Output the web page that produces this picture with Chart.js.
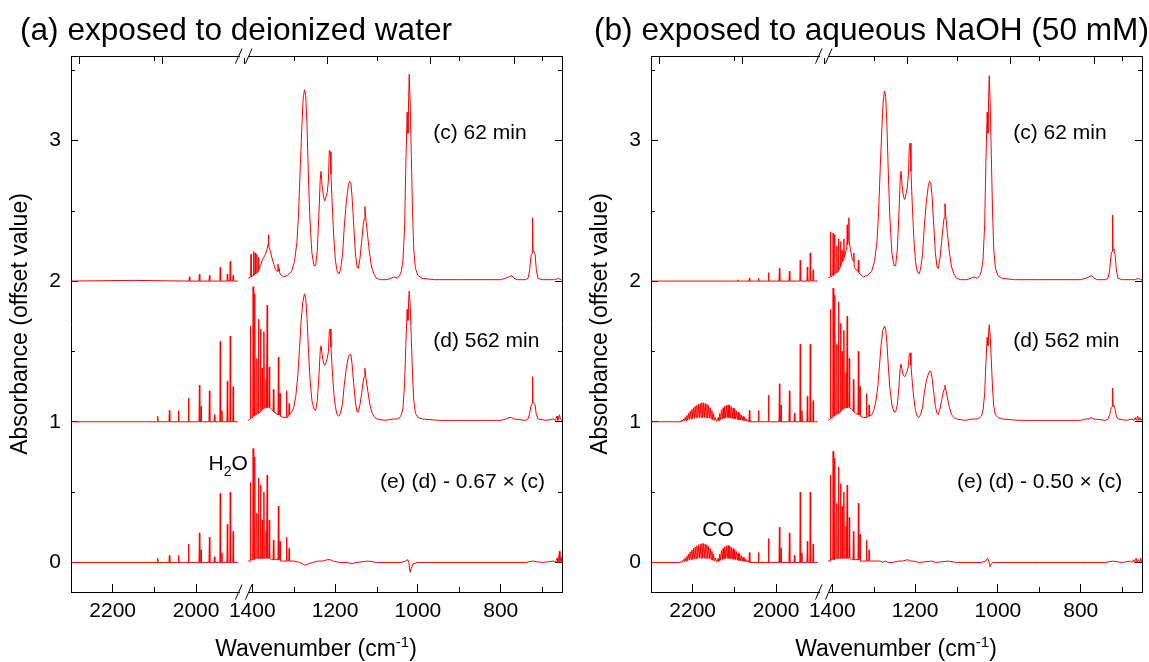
<!DOCTYPE html>
<html><head><meta charset="utf-8">
<script src="https://cdn.jsdelivr.net/npm/chart.js@4.4.1/dist/chart.umd.min.js"></script>
<style>
html,body{margin:0;padding:0;background:#fff;}
#wrap{position:relative;width:1149px;height:662px;overflow:hidden;}
#ca{position:absolute;left:0;top:0;}
#cb{position:absolute;left:580px;top:0;}
</style></head><body>
<div id="wrap">
<canvas id="ca" width="575" height="662"></canvas>
<canvas id="cb" width="569" height="662"></canvas>
</div>
<script>
// ---------- DATA (wavenumber [cm-1], absorbance above each trace's own baseline) ----------
const offsets = { c: 2, d: 1, e: 0 };           // vertical offset of each trace
const xMajorTicks = [2200, 2000, 1400, 1200, 1000, 800];
const xMinorTicks = [2100, 1300, 1100, 900, 700];
const yMajorTicks = [0, 1, 2, 3];
const yMinorTicks = [0.5, 1.5, 2.5, 3.5];
const xLeftRange = [1885, 2300];
const xRightRange = [652, 1420];
const yRange = [-0.21, 3.6];

// ---- panel (a) deionized water ----
const aC_left = [[2300,0],[2150,0.005],[2017,0],[2016,0.03],[2015,0],[1993,0],[1992,0.05],[1991,0],[1969,0],[1968,0.04],[1967,0],[1943,0],[1942,0.1],[1941,0],[1926,0],[1925,0.05],[1924,0],[1919,0],[1918,0.14],[1917,0],[1912,0],[1911,0.04],[1910,0],[1900,0]];
const aC_right = [[1410,0.02],[1404,0.03],[1403,0.19],[1402,0.03],[1398,0.04],[1397,0.21],[1396,0.04],[1394,0.05],[1393,0.2],[1392,0.05],[1390,0.06],[1389,0.19],[1388,0.06],[1386,0.07],[1385,0.17],[1384,0.08],[1380,0.11],[1376,0.15],[1372,0.17],[1368,0.19],[1365,0.22],[1362,0.26],[1361,0.33],[1360,0.25],[1357,0.22],[1353,0.17],[1348,0.12],[1344,0.08],[1340,0.07],[1338,0.12],[1337,0.07],[1335,0.09],[1333,0.05],[1325,0.03],[1315,0.04],[1305,0.07],[1298,0.14],[1292,0.28],[1288,0.5],[1284,0.82],[1280,1.12],[1277,1.3],[1274,1.36],[1271,1.32],[1268,1.12],[1265,0.8],[1261,0.45],[1256,0.2],[1251,0.11],[1247,0.11],[1243,0.22],[1239,0.48],[1236,0.72],[1234,0.78],[1231,0.67],[1228,0.6],[1225,0.57],[1222,0.6],[1219,0.63],[1216,0.72],[1214,0.93],[1212,0.92],[1210,0.76],[1207,0.55],[1203,0.3],[1199,0.14],[1195,0.07],[1191,0.05],[1187,0.08],[1182,0.19],[1178,0.38],[1173,0.56],[1168,0.68],[1165,0.71],[1162,0.7],[1159,0.6],[1155,0.4],[1151,0.2],[1147,0.1],[1144,0.09],[1140,0.16],[1136,0.28],[1132,0.4],[1130,0.44],[1128,0.53],[1126,0.45],[1122,0.34],[1117,0.2],[1112,0.1],[1106,0.05],[1100,0.02],[1090,0.01],[1075,0.01],[1065,0.02],[1058,0.03],[1050,0.02],[1044,0.04],[1040,0.07],[1036,0.15],[1032,0.4],[1029,0.85],[1026,1.2],[1024,1.05],[1022,1.35],[1021,1.47],[1019,1.3],[1016,0.9],[1013,0.5],[1010,0.22],[1006,0.09],[1000,0.04],[990,0.02],[960,0.01],[900,0.01],[800,0.01],[788,0.02],[780,0.03],[774,0.04],[768,0.02],[760,0.01],[740,0.01],[734,0.02],[730,0.08],[728,0.15],[726,0.19],[724,0.2],[723,0.45],[722,0.22],[720,0.22],[717,0.19],[714,0.08],[710,0.02],[700,0.01],[670,0.01],[660,0.02],[656,0.01],[652,0.01]];
const aD_left = [[2300,0],[2093,0],[2092,0.04],[2091,0],[2065,0],[2064,0.08],[2063,0],[2043,0],[2042,0.08],[2041,0],[2019,0],[2018,0.17],[2017,0],[1993,0],[1992,0.26],[1991,0],[1989,0],[1988,0.11],[1987,0],[1969,0],[1968,0.22],[1967,0],[1957,0],[1956,0.05],[1955,0],[1943,0],[1942,0.57],[1941,0],[1939,0],[1938,0.08],[1937,0],[1926,0],[1925,0.29],[1924,0],[1919,0],[1918,0.61],[1917,0],[1912,0],[1911,0.25],[1910,0],[1900,0]];
const aD_right = [[1410,0.01],[1405,0.02],[1404,0.68],[1403,0.03],[1399,0.03],[1398,0.96],[1397,0.04],[1396,0.4],[1395,0.04],[1394,0.91],[1393,0.05],[1390,0.05],[1389,0.45],[1388,0.06],[1386,0.06],[1385,0.73],[1384,0.06],[1381,0.07],[1380,0.66],[1379,0.08],[1377,0.08],[1376,0.38],[1375,0.09],[1373,0.09],[1372,0.64],[1371,0.1],[1368,0.1],[1367,0.3],[1366,0.1],[1365,0.1],[1364,0.83],[1363,0.1],[1360,0.11],[1359,0.39],[1358,0.1],[1354,0.09],[1350,0.08],[1349,0.23],[1348,0.07],[1343,0.06],[1338,0.05],[1337,0.46],[1336,0.05],[1334,0.05],[1333,0.2],[1332,0.04],[1325,0.03],[1318,0.03],[1317,0.22],[1316,0.03],[1312,0.04],[1311,0.13],[1310,0.05],[1305,0.07],[1300,0.1],[1295,0.18],[1290,0.33],[1286,0.52],[1282,0.72],[1278,0.85],[1274,0.91],[1271,0.88],[1268,0.75],[1265,0.55],[1261,0.32],[1256,0.15],[1251,0.09],[1247,0.08],[1243,0.15],[1239,0.33],[1236,0.5],[1234,0.54],[1231,0.47],[1228,0.42],[1225,0.4],[1222,0.42],[1219,0.45],[1216,0.5],[1214,0.65],[1212,0.66],[1210,0.53],[1207,0.38],[1203,0.2],[1199,0.1],[1195,0.05],[1191,0.04],[1187,0.06],[1182,0.13],[1178,0.26],[1173,0.38],[1168,0.46],[1165,0.48],[1162,0.48],[1159,0.41],[1155,0.27],[1151,0.14],[1147,0.07],[1144,0.07],[1140,0.12],[1136,0.2],[1132,0.29],[1130,0.32],[1128,0.38],[1126,0.32],[1122,0.24],[1117,0.14],[1112,0.07],[1106,0.04],[1100,0.02],[1080,0.01],[1060,0.02],[1050,0.02],[1044,0.03],[1040,0.05],[1036,0.1],[1032,0.28],[1029,0.56],[1026,0.8],[1024,0.72],[1022,0.88],[1021,0.93],[1019,0.85],[1016,0.6],[1013,0.33],[1010,0.15],[1006,0.06],[1000,0.03],[990,0.02],[950,0.01],[900,0.01],[800,0.01],[788,0.02],[780,0.03],[774,0.03],[768,0.02],[740,0.01],[734,0.02],[730,0.06],[728,0.1],[726,0.12],[724,0.13],[723,0.32],[722,0.14],[720,0.14],[717,0.12],[714,0.05],[710,0.02],[690,0.01],[672,0.02],[668,0.01],[664,0.04],[662,0.01],[658,0.05],[656,0.02],[652,0.01]];
const aE_left = [[2300,0],[2093,0],[2092,0.03],[2091,0],[2065,0],[2064,0.05],[2063,0],[2043,0],[2042,0.05],[2041,0],[2019,0],[2018,0.13],[2017,0],[1993,0],[1992,0.21],[1991,0],[1989,0],[1988,0.09],[1987,0],[1969,0],[1968,0.18],[1967,0],[1957,0],[1956,0.04],[1955,0],[1943,0],[1942,0.49],[1941,0],[1939,0],[1938,0.07],[1937,0],[1926,0],[1925,0.27],[1924,0],[1919,0],[1918,0.5],[1917,0],[1912,0],[1911,0.22],[1910,0],[1900,0]];
const aE_right = [[1410,0.01],[1405,0.01],[1404,0.57],[1403,0.02],[1399,0.02],[1398,0.81],[1397,0.02],[1396,0.3],[1395,0.02],[1394,0.75],[1393,0.03],[1390,0.03],[1389,0.35],[1388,0.03],[1386,0.03],[1385,0.6],[1384,0.03],[1381,0.03],[1380,0.55],[1379,0.03],[1377,0.03],[1376,0.3],[1375,0.03],[1373,0.03],[1372,0.5],[1371,0.03],[1368,0.03],[1367,0.22],[1366,0.03],[1365,0.03],[1364,0.62],[1363,0.03],[1360,0.03],[1359,0.3],[1358,0.03],[1354,0.02],[1350,0.02],[1349,0.16],[1348,0.02],[1343,0.02],[1338,0.02],[1337,0.4],[1336,0.02],[1334,0.02],[1333,0.15],[1332,0.01],[1325,0.01],[1318,0.01],[1317,0.18],[1316,0.01],[1312,0.01],[1311,0.1],[1310,0.01],[1300,0.01],[1285,0.0],[1278,-0.01],[1272,-0.02],[1265,-0.01],[1255,0.0],[1240,0.01],[1230,0.01],[1218,0.02],[1212,0.02],[1205,0.01],[1190,0.0],[1170,0.0],[1160,-0.01],[1150,0.0],[1120,0.01],[1100,0.0],[1040,0.0],[1030,0.01],[1025,0.02],[1022,0.0],[1019,-0.07],[1016,-0.04],[1012,-0.01],[1000,0.0],[900,0.0],[800,0.0],[740,0.0],[723,0.01],[700,0.0],[672,0.01],[668,0.0],[664,0.03],[662,0.0],[658,0.08],[657,0.0],[654,0.04],[652,0.0]];

// ---- panel (b) aqueous NaOH ----
const bC_left = [[2300,0],[2093,0],[2092,0.01],[2091,0],[2065,0],[2064,0.02],[2063,0],[2043,0],[2042,0.02],[2041,0],[2019,0],[2018,0.06],[2017,0],[1993,0],[1992,0.09],[1991,0],[1969,0],[1968,0.07],[1967,0],[1943,0],[1942,0.15],[1941,0],[1926,0],[1925,0.1],[1924,0],[1919,0],[1918,0.2],[1917,0],[1912,0],[1911,0.08],[1910,0],[1900,0]];
const bC_right = [[1410,0.02],[1405,0.03],[1404,0.35],[1403,0.03],[1399,0.04],[1398,0.34],[1397,0.04],[1395,0.05],[1394,0.33],[1393,0.05],[1390,0.06],[1389,0.25],[1388,0.06],[1386,0.07],[1385,0.3],[1384,0.08],[1381,0.1],[1380,0.28],[1379,0.11],[1377,0.13],[1376,0.22],[1375,0.14],[1373,0.15],[1372,0.3],[1371,0.17],[1368,0.2],[1365,0.24],[1364,0.4],[1363,0.26],[1361,0.3],[1360,0.45],[1359,0.28],[1356,0.22],[1352,0.16],[1349,0.14],[1348,0.2],[1347,0.1],[1343,0.08],[1338,0.07],[1337,0.15],[1336,0.06],[1333,0.05],[1325,0.03],[1315,0.04],[1305,0.07],[1298,0.14],[1292,0.28],[1288,0.5],[1284,0.82],[1280,1.1],[1277,1.28],[1274,1.35],[1271,1.31],[1268,1.1],[1265,0.8],[1261,0.45],[1256,0.2],[1251,0.11],[1247,0.11],[1243,0.22],[1239,0.48],[1236,0.72],[1234,0.78],[1231,0.67],[1228,0.6],[1225,0.58],[1222,0.62],[1219,0.66],[1216,0.76],[1214,0.96],[1212,0.98],[1210,0.78],[1207,0.56],[1203,0.3],[1199,0.14],[1195,0.07],[1191,0.05],[1187,0.08],[1182,0.19],[1178,0.38],[1173,0.56],[1168,0.68],[1165,0.71],[1162,0.7],[1159,0.6],[1155,0.4],[1151,0.2],[1147,0.1],[1144,0.09],[1140,0.16],[1136,0.28],[1132,0.4],[1130,0.45],[1128,0.55],[1126,0.46],[1122,0.34],[1117,0.2],[1112,0.1],[1106,0.05],[1100,0.02],[1090,0.01],[1075,0.01],[1065,0.02],[1058,0.03],[1050,0.02],[1044,0.04],[1040,0.07],[1036,0.15],[1032,0.4],[1029,0.85],[1026,1.2],[1024,1.05],[1022,1.35],[1021,1.46],[1019,1.3],[1016,0.9],[1013,0.5],[1010,0.22],[1006,0.09],[1000,0.04],[990,0.02],[960,0.01],[900,0.01],[800,0.01],[788,0.02],[780,0.03],[774,0.04],[768,0.02],[760,0.01],[740,0.01],[734,0.02],[730,0.08],[728,0.15],[726,0.2],[724,0.21],[723,0.47],[722,0.23],[720,0.22],[717,0.19],[714,0.08],[710,0.02],[700,0.01],[670,0.01],[660,0.02],[656,0.01],[652,0.01]];
const bD_left = [[2300,0],[2232,0],[2228,0.003],[2226,0.012],[2224,0.004],[2222,0.02],[2220,0.006],[2218,0.032],[2216,0.01],[2214,0.045],[2212,0.012],[2210,0.06],[2208,0.016],[2206,0.075],[2204,0.02],[2202,0.088],[2200,0.022],[2198,0.1],[2196,0.025],[2194,0.11],[2192,0.028],[2190,0.118],[2188,0.03],[2186,0.125],[2184,0.03],[2182,0.13],[2180,0.03],[2178,0.135],[2176,0.03],[2174,0.135],[2172,0.03],[2170,0.13],[2168,0.03],[2166,0.125],[2164,0.028],[2162,0.115],[2160,0.025],[2158,0.1],[2156,0.02],[2154,0.08],[2152,0.015],[2150,0.058],[2148,0.01],[2146,0.03],[2143,0.004],[2141,0.008],[2139,0.03],[2137,0.008],[2135,0.06],[2133,0.015],[2131,0.085],[2129,0.02],[2127,0.1],[2125,0.025],[2123,0.112],[2121,0.028],[2119,0.118],[2117,0.028],[2115,0.12],[2113,0.028],[2111,0.115],[2109,0.026],[2107,0.108],[2105,0.024],[2103,0.098],[2101,0.022],[2099,0.088],[2097,0.02],[2095,0.078],[2093,0.016],[2091,0.068],[2089,0.014],[2087,0.058],[2085,0.012],[2083,0.048],[2081,0.01],[2079,0.038],[2077,0.008],[2075,0.028],[2073,0.006],[2071,0.02],[2069,0.004],[2067,0.012],[2065,0.002],[2064,0.08],[2063,0],[2043,0],[2042,0.08],[2041,0],[2019,0],[2018,0.19],[2017,0],[1993,0],[1992,0.27],[1991,0],[1989,0],[1988,0.12],[1987,0],[1969,0],[1968,0.22],[1967,0],[1957,0],[1956,0.06],[1955,0],[1943,0],[1942,0.55],[1941,0],[1939,0],[1938,0.08],[1937,0],[1926,0],[1925,0.18],[1924,0],[1919,0],[1918,0.55],[1917,0],[1912,0],[1911,0.15],[1910,0],[1900,0]];
const bD_right = [[1410,0.01],[1405,0.02],[1404,0.8],[1403,0.03],[1399,0.03],[1398,0.95],[1397,0.04],[1396,0.45],[1395,0.04],[1394,0.9],[1393,0.05],[1390,0.05],[1389,0.55],[1388,0.06],[1386,0.06],[1385,0.85],[1384,0.06],[1381,0.07],[1380,0.7],[1379,0.08],[1377,0.08],[1376,0.5],[1375,0.09],[1373,0.09],[1372,0.65],[1371,0.1],[1368,0.1],[1367,0.35],[1366,0.1],[1365,0.1],[1364,0.75],[1363,0.1],[1360,0.11],[1359,0.45],[1358,0.1],[1354,0.09],[1350,0.08],[1349,0.3],[1348,0.07],[1343,0.06],[1338,0.05],[1337,0.5],[1336,0.05],[1334,0.05],[1333,0.25],[1332,0.04],[1325,0.03],[1318,0.03],[1317,0.2],[1316,0.03],[1312,0.04],[1311,0.12],[1310,0.04],[1305,0.05],[1300,0.08],[1295,0.14],[1290,0.25],[1286,0.4],[1282,0.55],[1278,0.65],[1274,0.68],[1271,0.66],[1268,0.56],[1265,0.41],[1261,0.24],[1256,0.12],[1251,0.07],[1247,0.07],[1243,0.12],[1239,0.25],[1236,0.38],[1234,0.41],[1231,0.36],[1228,0.33],[1225,0.32],[1222,0.34],[1219,0.36],[1216,0.4],[1214,0.48],[1212,0.49],[1210,0.4],[1207,0.29],[1203,0.16],[1199,0.08],[1195,0.04],[1191,0.03],[1187,0.05],[1182,0.1],[1178,0.2],[1173,0.29],[1168,0.34],[1165,0.36],[1162,0.36],[1159,0.31],[1155,0.21],[1151,0.11],[1147,0.06],[1144,0.05],[1140,0.09],[1136,0.15],[1132,0.21],[1130,0.23],[1128,0.26],[1126,0.23],[1122,0.17],[1117,0.1],[1112,0.05],[1106,0.03],[1100,0.02],[1080,0.01],[1060,0.02],[1050,0.02],[1044,0.03],[1040,0.04],[1036,0.08],[1032,0.2],[1029,0.42],[1026,0.6],[1024,0.54],[1022,0.65],[1021,0.69],[1019,0.63],[1016,0.44],[1013,0.24],[1010,0.11],[1006,0.05],[1000,0.03],[990,0.02],[950,0.01],[900,0.01],[800,0.01],[788,0.02],[780,0.02],[774,0.03],[768,0.02],[740,0.01],[734,0.02],[730,0.05],[728,0.08],[726,0.1],[724,0.11],[723,0.24],[722,0.12],[720,0.11],[717,0.09],[714,0.04],[710,0.02],[690,0.01],[676,0.02],[672,0.01],[668,0.03],[666,0.01],[662,0.04],[660,0.01],[657,0.03],[654,0.01],[652,0.02]];
const bE_left = [[2300,0],[2232,0],[2228,0.003],[2226,0.012],[2224,0.004],[2222,0.02],[2220,0.006],[2218,0.032],[2216,0.01],[2214,0.045],[2212,0.012],[2210,0.06],[2208,0.016],[2206,0.075],[2204,0.02],[2202,0.088],[2200,0.022],[2198,0.1],[2196,0.025],[2194,0.11],[2192,0.028],[2190,0.118],[2188,0.03],[2186,0.125],[2184,0.03],[2182,0.13],[2180,0.03],[2178,0.135],[2176,0.03],[2174,0.135],[2172,0.03],[2170,0.13],[2168,0.03],[2166,0.125],[2164,0.028],[2162,0.115],[2160,0.025],[2158,0.1],[2156,0.02],[2154,0.08],[2152,0.015],[2150,0.058],[2148,0.01],[2146,0.03],[2143,0.004],[2141,0.008],[2139,0.03],[2137,0.008],[2135,0.06],[2133,0.015],[2131,0.085],[2129,0.02],[2127,0.1],[2125,0.025],[2123,0.112],[2121,0.028],[2119,0.118],[2117,0.028],[2115,0.12],[2113,0.028],[2111,0.115],[2109,0.026],[2107,0.108],[2105,0.024],[2103,0.098],[2101,0.022],[2099,0.088],[2097,0.02],[2095,0.078],[2093,0.016],[2091,0.068],[2089,0.014],[2087,0.058],[2085,0.012],[2083,0.048],[2081,0.01],[2079,0.038],[2077,0.008],[2075,0.028],[2073,0.006],[2071,0.02],[2069,0.004],[2067,0.012],[2065,0.002],[2064,0.07],[2063,0],[2043,0],[2042,0.07],[2041,0],[2019,0],[2018,0.17],[2017,0],[1993,0],[1992,0.25],[1991,0],[1989,0],[1988,0.1],[1987,0],[1969,0],[1968,0.21],[1967,0],[1957,0],[1956,0.05],[1955,0],[1943,0],[1942,0.5],[1941,0],[1939,0],[1938,0.07],[1937,0],[1926,0],[1925,0.15],[1924,0],[1919,0],[1918,0.5],[1917,0],[1912,0],[1911,0.13],[1910,0],[1900,0]];
const bE_right = [[1410,0.01],[1405,0.01],[1404,0.62],[1403,0.02],[1399,0.02],[1398,0.79],[1397,0.02],[1396,0.35],[1395,0.02],[1394,0.74],[1393,0.03],[1390,0.03],[1389,0.42],[1388,0.03],[1386,0.03],[1385,0.68],[1384,0.03],[1381,0.03],[1380,0.56],[1379,0.03],[1377,0.03],[1376,0.4],[1375,0.03],[1373,0.03],[1372,0.5],[1371,0.03],[1368,0.03],[1367,0.26],[1366,0.03],[1365,0.03],[1364,0.55],[1363,0.03],[1360,0.03],[1359,0.32],[1358,0.03],[1354,0.02],[1350,0.02],[1349,0.22],[1348,0.02],[1343,0.02],[1338,0.02],[1337,0.42],[1336,0.02],[1334,0.02],[1333,0.2],[1332,0.01],[1325,0.01],[1318,0.01],[1317,0.16],[1316,0.01],[1312,0.01],[1311,0.09],[1310,0.01],[1300,0.01],[1285,0.01],[1278,0.0],[1272,0.01],[1265,0.0],[1255,0.0],[1240,0.01],[1230,0.01],[1218,0.02],[1212,0.01],[1205,0.01],[1190,0.0],[1160,0.01],[1150,0.0],[1120,0.01],[1100,0.0],[1040,0.0],[1030,0.01],[1025,0.03],[1022,0.01],[1019,-0.03],[1016,-0.01],[1012,0.0],[1000,0.0],[900,0.0],[800,0.0],[740,0.0],[723,0.01],[700,0.0],[680,0.01],[676,0.0],[672,0.02],[670,0.0],[666,0.03],[664,0.0],[660,0.02],[658,0.0],[655,0.03],[652,0.0]];

// ---------- RENDERING ----------
const FONT = "'Liberation Sans', Arial, Helvetica, sans-serif";
const RED = '#ff0000';

function ds(arr, off, xid) {
  return { data: arr.map(p => ({ x: p[0], y: p[1] + off })), xAxisID: xid, yAxisID: 'y',
    borderColor: RED, borderWidth: 1, pointRadius: 0, pointHoverRadius: 0, tension: 0, fill: false };
}
function fixTicks(list) {
  return s => { s.ticks = list.filter(v => v >= s.min && v <= s.max).map(v => ({ value: v })); };
}

function xScale(range, pos, stack, weight) {
  const bottom = pos === 'bottom';
  return {
    type: 'linear', position: pos, stack: stack, stackWeight: weight,
    min: range[0], max: range[1], reverse: true, offset: false,
    ticks: { display: bottom, autoSkip: false, maxRotation: 0, minRotation: 0,
      padding: 15, color: '#000', font: { family: FONT, size: 21 }, callback: v => String(v) },
    afterBuildTicks: fixTicks(xMajorTicks),
    grid: { display: true, drawOnChartArea: false, drawTicks: true, tickLength: -8, color: '#000', tickColor: '#000', lineWidth: 1, tickWidth: 1 },
    border: { display: true, color: '#000', width: 1 },
    afterFit: s => { s.height = bottom ? 70 : 0; s.paddingLeft = 0; s.paddingRight = 0; }
  };
}
function yScale(pos) {
  const left = pos === 'left';
  return {
    type: 'linear', position: pos, min: yRange[0], max: yRange[1],
    ticks: { display: left, padding: 17, color: '#000',
      font: { family: FONT, size: 21 }, callback: v => String(v) },
    afterBuildTicks: fixTicks(yMajorTicks),
    grid: { display: true, drawOnChartArea: false, drawTicks: true, tickLength: -7, color: '#000', tickColor: '#000', lineWidth: 1 },
    border: { display: true, color: '#000', width: 1 },
    afterFit: s => { s.width = left ? 71 : 0; s.paddingTop = 0; s.paddingBottom = 0; }
  };
}

function decor(cfg) {
  return {
    id: 'decor',
    afterDraw(chart) {
      const ctx = chart.ctx, S = chart.scales, ca = chart.chartArea;
      ctx.save();
      ctx.strokeStyle = '#000'; ctx.lineWidth = 1;
      const seg = (x1, y1, x2, y2) => { ctx.beginPath(); ctx.moveTo(x1, y1); ctx.lineTo(x2, y2); ctx.stroke(); };
      // minor ticks
      for (const id of ['xL', 'xR']) {
        const sc = S[id];
        for (const v of xMinorTicks) {
          if (v < sc.min || v > sc.max) continue;
          const x = Math.round(sc.getPixelForValue(v)) + 0.5;
          seg(x, ca.bottom, x, ca.bottom - 5);
          seg(x, ca.top, x, ca.top + 5);
        }
      }
      for (const v of yMinorTicks) {
        const y = Math.round(S.y.getPixelForValue(v)) + 0.5;
        seg(ca.left, y, ca.left + 4, y);
        seg(ca.right, y, ca.right - 4, y);
      }
      // axis break marks
      const bx = S.xL.right;
      for (const yb of [ca.top, ca.bottom]) {
        ctx.fillStyle = '#fff';
        ctx.fillRect(bx - 4, yb - 2, 8, 4);
        seg(bx - 8.5, yb + 7.5, bx - 2, yb - 7.5);
        seg(bx + 1.5, yb + 7.5, bx + 8, yb - 7.5);
      }
      ctx.fillStyle = '#000';
      // panel title
      ctx.font = '31.6px ' + FONT; ctx.textAlign = 'left'; ctx.textBaseline = 'alphabetic';
      ctx.fillText(cfg.title, cfg.titleX, 40);
      // y title
      ctx.save();
      ctx.translate(21, 324); ctx.rotate(-Math.PI / 2);
      ctx.font = '23px ' + FONT; ctx.textAlign = 'center'; ctx.textBaseline = 'middle';
      ctx.fillText('Absorbance (offset value)', 0, 0);
      ctx.restore();
      // x title with superscript
      ctx.textBaseline = 'alphabetic'; ctx.textAlign = 'left';
      const p1 = 'Wavenumber (cm', p2 = '-1', p3 = ')';
      ctx.font = '23px ' + FONT; const w1 = ctx.measureText(p1).width, w3 = ctx.measureText(p3).width;
      ctx.font = '15px ' + FONT; const w2 = ctx.measureText(p2).width;
      const x0 = 316 - (w1 + w2 + w3) / 2;
      ctx.font = '23px ' + FONT; ctx.fillText(p1, x0, 656);
      ctx.font = '15px ' + FONT; ctx.fillText(p2, x0 + w1, 647);
      ctx.font = '23px ' + FONT; ctx.fillText(p3, x0 + w1 + w2, 656);
      // annotations (positioned in data coordinates)
      for (const a of cfg.notes) {
        const x = S[a.axis].getPixelForValue(a.w), y = S.y.getPixelForValue(a.v);
        ctx.font = '21px ' + FONT; ctx.textAlign = a.align; ctx.textBaseline = 'middle';
        ctx.fillText(a.t, x, y);
      }
      // chemical labels with subscripts
      for (const c of cfg.chem) {
        let x = S[c.axis].getPixelForValue(c.w); const y = S.y.getPixelForValue(c.v);
        ctx.textAlign = 'left'; ctx.textBaseline = 'alphabetic';
        for (const part of c.parts) {
          ctx.font = (part.sub ? 14 : 21) + 'px ' + FONT;
          ctx.fillText(part.t, x, y + (part.sub ? 6 : 0));
          x += ctx.measureText(part.t).width;
        }
      }
      ctx.restore();
    }
  };
}

function makeChart(id, sets, cfg, rightPad) {
  const datasets = [
    ds(sets.eL, offsets.e, 'xL'), ds(sets.eR, offsets.e, 'xR'),
    ds(sets.dL, offsets.d, 'xL'), ds(sets.dR, offsets.d, 'xR'),
    ds(sets.cL, offsets.c, 'xL'), ds(sets.cR, offsets.c, 'xR')
  ];
  return new Chart(document.getElementById(id), {
    type: 'line',
    data: { datasets },
    options: {
      responsive: false, animation: false, devicePixelRatio: 1,
      parsing: false, normalized: true,
      layout: { padding: { left: 0, right: rightPad, top: 56, bottom: 0 } },
      plugins: { legend: { display: false }, tooltip: { enabled: false }, title: { display: false } },
      events: [],
      scales: {
        xL: xScale(xLeftRange, 'bottom', 'xb', 173),
        xR: xScale(xRightRange, 'bottom', 'xb', 318),
        xLt: xScale(xLeftRange, 'top', 'xt', 173),
        xRt: xScale(xRightRange, 'top', 'xt', 318),
        y: yScale('left'),
        y2: yScale('right')
      }
    },
    plugins: [decor(cfg)]
  });
}

makeChart('ca', { cL: aC_left, cR: aC_right, dL: aD_left, dR: aD_right, eL: aE_left, eR: aE_right }, {
  title: '(a) exposed to deionized water', titleX: 20,
  notes: [
    { t: '(c) 62 min', axis: 'xR', w: 963, v: 3.05, align: 'left' },
    { t: '(d) 562 min', axis: 'xR', w: 963, v: 1.57, align: 'left' },
    { t: '(e) (d) - 0.67 \u00d7 (c)', axis: 'xR', w: 693, v: 0.57, align: 'right' }
  ],
  chem: [{ axis: 'xL', w: 1970, v: 0.654, parts: [{ t: 'H' }, { t: '2', sub: true }, { t: 'O' }] }]
}, 13);

makeChart('cb', { cL: bC_left, cR: bC_right, dL: bD_left, dR: bD_right, eL: bE_left, eR: bE_right }, {
  title: '(b) exposed to aqueous NaOH (50 mM)', titleX: 14,
  notes: [
    { t: '(c) 62 min', axis: 'xR', w: 963, v: 3.05, align: 'left' },
    { t: '(d) 562 min', axis: 'xR', w: 963, v: 1.57, align: 'left' },
    { t: '(e) (d) - 0.50 \u00d7 (c)', axis: 'xR', w: 700, v: 0.57, align: 'right' }
  ],
  chem: [{ axis: 'xL', w: 2177, v: 0.19, parts: [{ t: 'CO' }] }]
}, 7);
</script>
</body></html>
